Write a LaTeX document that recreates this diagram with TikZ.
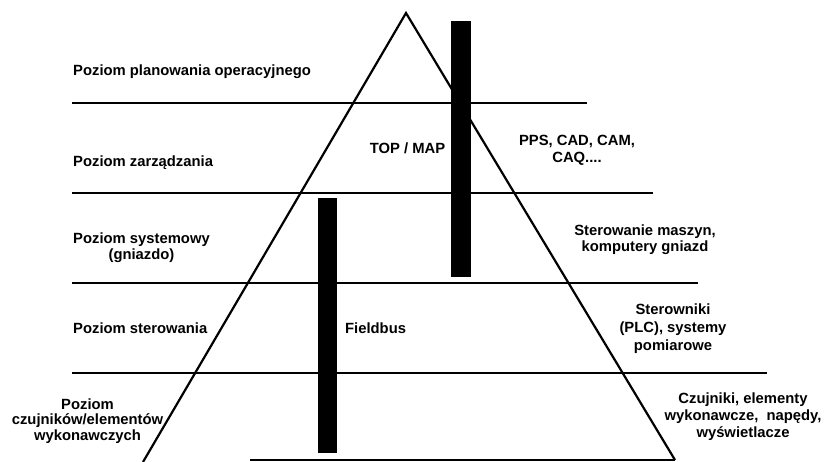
\documentclass[tikz,border=0pt]{standalone}
\usepackage{fontspec}
\setmainfont{Liberation Sans}
\begin{document}
\begin{tikzpicture}[x=1pt,y=-1pt,
  lbl/.style={font=\bfseries\fontsize{14.8}{17}\selectfont, inner sep=0pt, align=center},
  bs/.style={font=\bfseries\fontsize{14.8}{#1}\selectfont},
  lleft/.style={lbl, anchor=base west},
  lcen/.style={lbl, anchor=base},
  level/.style={line width=2pt},
  side/.style={line width=2.2pt, line join=miter},
  bus/.style={fill=black, draw=none, inner sep=0pt, minimum width=19.5pt}]
\useasboundingbox (0,0) rectangle (825,462);
% pyramid
\coordinate (apex) at (406,13);
\coordinate (bl) at (143,462);
\coordinate (br) at (675,460);
\coordinate (b0) at (250,460);
\draw[side] (bl) -- (apex) -- (br);
\draw[level] (b0) -- (br);
% level lines
\coordinate (l1a) at (72,103);  \coordinate (l1b) at (587,103);
\coordinate (l2a) at (72,193);  \coordinate (l2b) at (653,193);
\coordinate (l3a) at (72,283);  \coordinate (l3b) at (698,283);
\coordinate (l4a) at (72,373);  \coordinate (l4b) at (767,373);
\draw[level] (l1a) -- (l1b);
\draw[level] (l2a) -- (l2b);
\draw[level] (l3a) -- (l3b);
\draw[level] (l4a) -- (l4b);
% buses
\node[bus, minimum height=256pt] (topmap) at (460.75,149) {};
\node[bus, minimum height=255pt] (fieldbus) at (327.5,325.5) {};
% left labels (base anchor = baseline of last line)
\node[lleft] (p1) at (73,76) {Poziom planowania operacyjnego};
\node[lleft] (p2) at (73,167) {Poziom zarządzania};
\node[lcen, bs=16] (p3) at (141.5,260) {Poziom systemowy\\(gniazdo)};
\node[lleft] (p4) at (73,334) {Poziom sterowania};
\node[lcen, bs=15.5] (p5) at (87.5,440) {Poziom\\czujników/elementów\\wykonawczych};
% bus labels
\node[lcen] (t1) at (407.5,154) {TOP / MAP};
\node[lleft] (t2) at (345,334) {Fieldbus};
% right labels
\node[lcen, bs=17] (r1) at (577,163) {PPS, CAD, CAM,\\CAQ....};
\node[lcen, bs=16] (r2) at (645,252) {Sterowanie maszyn,\\komputery gniazd};
\node[lcen, bs=18] (r3) at (673,351) {Sterowniki\\(PLC), systemy\\pomiarowe};
\node[lcen, bs=17] (r4) at (743,437) {Czujniki, elementy\\wykonawcze,\ \ napędy,\\wyświetlacze};
\end{tikzpicture}
\end{document}
